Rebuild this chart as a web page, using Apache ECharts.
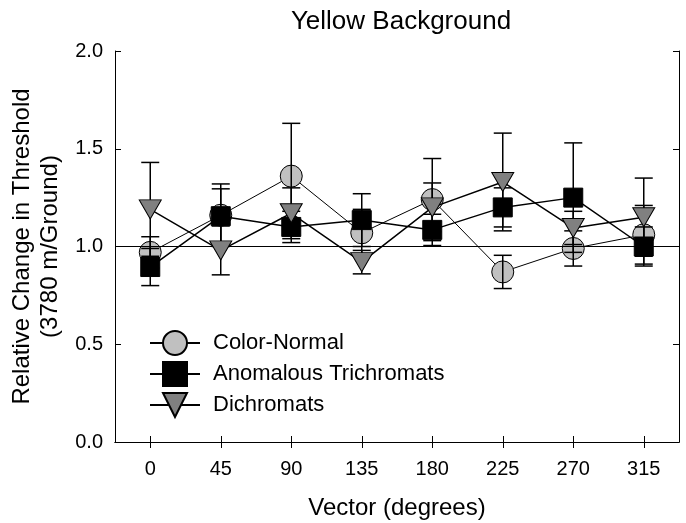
<!DOCTYPE html>
<html>
<head>
<meta charset="utf-8">
<script src="https://cdn.jsdelivr.net/npm/echarts@6/dist/echarts.min.js"></script>
<style>
  html, body { margin: 0; padding: 0; background: #fff; }
  #chart { width: 686px; height: 523px; }
</style>
</head>
<body>
<div id="chart"></div>
<script>
const vectors = ['0', '45', '90', '135', '180', '225', '270', '315']
const normal = [0.97, 1.16, 1.36, 1.07, 1.24, 0.87, 0.99, 1.06]
const normalErr = [0.08, 0.16, 0.27, 0.12, 0.21, 0.085, 0.09, 0.15]
const anomalous = [0.895, 1.155, 1.10, 1.135, 1.085, 1.20, 1.25, 1.0]
const anomalousErr = [0.095, 0.14, 0.08, 0.135, 0.08, 0.10, 0.28, 0.10]
const dichromats = [1.19, 0.98, 1.17, 0.92, 1.20, 1.33, 1.095, 1.15]
const dichromatsErr = [0.24, 0.125, 0.13, 0.06, 0.125, 0.25, 0.085, 0.2]

const FONT = '"Liberation Sans", Arial, sans-serif'
const triDown = 'path://M0,0 L22,0 L11,19 Z'

const chart = echarts.init(document.getElementById('chart'), null, { renderer: 'canvas' })

function errSeries(vals, errs, z) {
  return {
    type: 'custom',
    z: z,
    silent: true,
    data: vals.map((v, i) => [i, v, errs[i]]),
    renderItem: (params, api) => {
      const i = api.value(0)
      const v = api.value(1)
      const e = api.value(2)
      const top = api.coord([i, v + e])
      const bot = api.coord([i, v - e])
      const hw = 9
      const style = { stroke: '#000', lineWidth: 1.5 }
      return {
        type: 'group',
        children: [
          { type: 'line', shape: { x1: top[0], y1: top[1], x2: bot[0], y2: bot[1] }, style },
          { type: 'line', shape: { x1: top[0] - hw, y1: top[1], x2: top[0] + hw, y2: top[1] }, style },
          { type: 'line', shape: { x1: bot[0] - hw, y1: bot[1], x2: bot[0] + hw, y2: bot[1] }, style }
        ]
      }
    }
  }
}

const axisLine = { show: true, lineStyle: { color: '#000', width: 1 } }

chart.setOption({
  animation: false,
  title: {
    text: 'Yellow Background',
    left: 396,
    top: 4,
    textAlign: 'center',
    textStyle: { fontFamily: FONT, fontSize: 26, fontWeight: 'normal', color: '#000' }
  },
  grid: { left: 115, right: 7, top: 51, bottom: 81, containLabel: false, outerBoundsMode: 'none' },
  legend: {
    orient: 'vertical',
    left: 144,
    top: 325,
    itemWidth: 50,
    itemHeight: 30,
    itemGap: 5,
    data: ['Color-Normal', 'Anomalous Trichromats', 'Dichromats'],
    textStyle: { fontFamily: FONT, fontSize: 22, color: '#000', padding: [0, 0, 0, 8] }
  },
  xAxis: [{
    type: 'category',
    data: vectors,
    boundaryGap: true,
    position: 'bottom',
    name: 'Vector (degrees)',
    nameLocation: 'middle',
    nameGap: 54,
    nameTextStyle: { fontFamily: FONT, fontSize: 24, color: '#000' },
    axisLine,
    axisTick: { show: true, inside: true, alignWithLabel: true, length: 6, lineStyle: { color: '#000' } },
    axisLabel: { fontFamily: FONT, fontSize: 20, color: '#000', margin: 17 },
    splitLine: { show: false }
  }, {
    type: 'category',
    data: vectors,
    boundaryGap: true,
    position: 'top',
    axisLine,
    axisTick: { show: true, inside: true, alignWithLabel: true, length: 6, lineStyle: { color: '#000' } },
    axisLabel: { show: false },
    splitLine: { show: false }
  }],
  yAxis: [{
    type: 'value',
    min: 0,
    max: 2,
    interval: 0.5,
    position: 'left',
    name: 'Relative Change in Threshold\n(3780 m/Ground)',
    nameLocation: 'middle',
    nameGap: 39,
    nameTextStyle: { fontFamily: FONT, fontSize: 24, color: '#000', lineHeight: 28 },
    axisLine,
    axisTick: { show: true, inside: true, length: 6, lineStyle: { color: '#000' } },
    axisLabel: { fontFamily: FONT, fontSize: 20, color: '#000', margin: 12, formatter: v => v.toFixed(1) },
    splitLine: { show: false }
  }, {
    type: 'value',
    min: 0,
    max: 2,
    interval: 0.5,
    position: 'right',
    axisLine,
    axisTick: { show: true, inside: true, length: 6, lineStyle: { color: '#000' } },
    axisLabel: { show: false },
    splitLine: { show: false }
  }],
  series: [
    {
      name: 'Color-Normal',
      type: 'line',
      z: 2,
      data: normal,
      symbol: 'circle',
      symbolSize: 22,
      lineStyle: { color: '#000', width: 1 },
      itemStyle: { color: '#c0c0c0', borderColor: '#000', borderWidth: 1 },
      markLine: {
        silent: true,
        symbol: 'none',
        label: { show: false },
        lineStyle: { color: '#000', width: 1, type: 'solid' },
        data: [{ yAxis: 1 }]
      }
    },
    errSeries(normal, normalErr, 3),
    errSeries(anomalous, anomalousErr, 3),
    errSeries(dichromats, dichromatsErr, 3),
    {
      name: 'Anomalous Trichromats',
      type: 'line',
      z: 4,
      data: anomalous,
      symbol: 'rect',
      symbolSize: 19,
      lineStyle: { color: '#000', width: 1.5 },
      itemStyle: { color: '#000', borderColor: '#000', borderWidth: 1 }
    },
    {
      name: 'Dichromats',
      type: 'line',
      z: 5,
      data: dichromats,
      symbol: triDown,
      symbolSize: [22, 19],
      lineStyle: { color: '#000', width: 1.5 },
      itemStyle: { color: '#808080', borderColor: '#000', borderWidth: 1 }
    }
  ]
})
</script>
</body>
</html>
